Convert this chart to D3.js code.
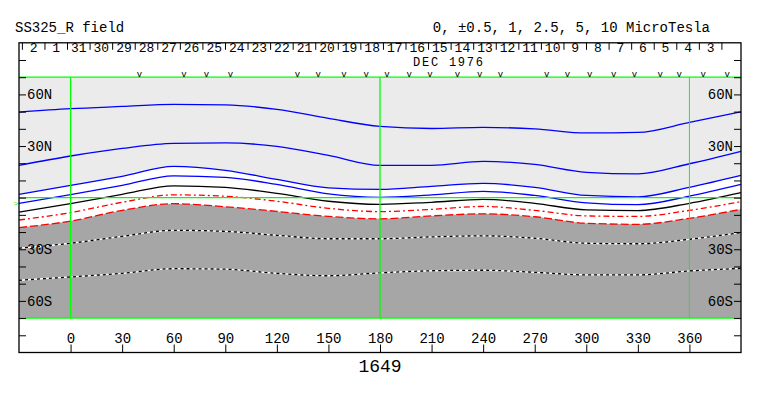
<!DOCTYPE html>
<html>
<head>
<meta charset="UTF-8">
<script src="https://cdn.jsdelivr.net/npm/d3@7"></script>
<style>
body { margin: 0; background: #fff; }
text { font-family: "Liberation Mono", monospace; }
</style>
</head>
<body>
<div id="chart"></div>
<script>
const lons = [-30, 0, 30, 60, 90, 120, 150, 180, 210, 240, 270, 300, 330, 360, 390];

// contour latitudes (deg) per level, MicroTesla
const c5    = [49.7, 51.7, 53.0, 54.2, 53.9, 51.3, 46.1, 41.4, 40.2, 40.8, 40.0, 37.6, 37.9, 43.7, 49.9];
const c2_5  = [18.8, 24.2, 28.6, 31.5, 31.8, 29.8, 24.6, 18.8, 18.8, 21.1, 19.3, 14.7, 13.8, 19.7, 26.9];
const c1    = [1.9, 7.1, 12.4, 18.2, 15.9, 10.6, 5.7, 4.8, 6.6, 8.3, 6.0, 1.3, 0.5, 6.0, 12.9];
const c05   = [-3.3, 1.7, 7.1, 12.7, 11.8, 7.7, 2.2, 0.2, 1.6, 3.7, 1.3, -3.0, -4.1, 0.9, 7.7];
const c0    = [-8.4, -3.5, 1.9, 6.9, 6.0, 2.5, -2.1, -3.9, -2.7, -1.0, -3.3, -7.1, -7.5, -3.3, 2.9];
const cm05  = [-13.0, -8.7, -2.7, 1.6, 0.8, -2.1, -6.2, -8.1, -6.8, -5.1, -7.4, -10.6, -10.9, -7.4, -2.3];
const cm1   = [-17.4, -13.6, -7.4, -3.5, -5.3, -8.0, -10.9, -12.3, -10.6, -9.4, -11.1, -14.9, -15.5, -12.0, -6.8];
const cm2_5 = [-29.4, -26.5, -22.5, -19.0, -19.6, -21.9, -23.9, -23.9, -22.8, -22.2, -23.6, -26.5, -26.8, -24.2, -20.3];
const cm5   = [-48.0, -46.1, -44.0, -41.3, -41.6, -44.0, -45.4, -43.7, -42.5, -42.2, -43.4, -44.9, -44.9, -42.6, -41.1];

// days (Jan 2 back to Dec 3) along the top, right to left in time
const days = [2, 1, 31, 30, 29, 28, 27, 26, 25, 24, 23, 22, 21, 20, 19, 18, 17, 16, 15, 14, 13, 12, 11, 10, 9, 8, 7, 6, 5, 4, 3];

// observation markers (carrington longitude)
const obsLons = [40, 66, 79, 93, 132, 144, 159, 172, 184, 197, 209, 225, 238, 250, 277, 289, 302, 316, 328, 343, 354, 368, 382];

const xTicks = [0, 30, 60, 90, 120, 150, 180, 210, 240, 270, 300, 330, 360];
const latLabels = [60, 30, -30, -60];

const width = 763, height = 396;

const x = d3.scaleLinear().domain([-30, 390]).range([19, 741]);
const y = d3.scaleLinear().domain([-90, 90]).range([352.5, 42.8]);
// day boundary index -> longitude
const dayLon = d3.scaleLinear().domain([0, 30]).range([-14.9, 378.9]);

const svg = d3.select("#chart").append("svg")
    .attr("width", width)
    .attr("height", height);

const pts = arr => arr.map((v, i) => [lons[i], v]);

// shaded areas
const areaTop = d3.area()
    .x(d => x(d[0]))
    .y0(y(70))
    .y1(d => y(d[1]))
    .curve(d3.curveMonotoneX);
const areaBot = d3.area()
    .x(d => x(d[0]))
    .y0(y(-70))
    .y1(d => y(d[1]))
    .curve(d3.curveMonotoneX);

svg.append("path").datum(pts(c1)).attr("d", areaTop).attr("fill", "#ebebeb");
svg.append("path").datum(pts(cm1)).attr("d", areaBot).attr("fill", "#a6a6a6");

const line = d3.line()
    .x(d => x(d[0]))
    .y(d => y(d[1]))
    .curve(d3.curveMonotoneX);

const contours = [
    {v: c5, color: "#0000ff", dash: null},
    {v: c2_5, color: "#0000ff", dash: null},
    {v: c1, color: "#0000ff", dash: null},
    {v: c05, color: "#0000ff", dash: null},
    {v: c0, color: "#000000", dash: null},
    {v: cm05, color: "#ff0000", dash: "6,3,2,3"},
    {v: cm1, color: "#ff0000", dash: "8,3"},
    {v: cm2_5, color: "#ffffff", dash: null, over: "3,3"},
    {v: cm5, color: "#ffffff", dash: null, over: "3,3"}
];

contours.forEach(c => {
    svg.append("path").datum(pts(c.v))
        .attr("d", line)
        .attr("fill", "none")
        .attr("stroke", c.color)
        .attr("stroke-width", 1.3)
        .attr("stroke-dasharray", c.dash);
    if (c.over) {
        svg.append("path").datum(pts(c.v))
            .attr("d", line)
            .attr("fill", "none")
            .attr("stroke", "#000")
            .attr("stroke-width", 1.3)
            .attr("stroke-dasharray", c.over);
    }
});

// green grid: equator, plot top/bottom, 0/180/360 meridians
const green = "#00ff00";
[70, 0, -70].forEach(l => {
    svg.append("line")
        .attr("x1", x(-30)).attr("x2", x(390))
        .attr("y1", y(l)).attr("y2", y(l))
        .attr("stroke", green).attr("stroke-width", 1.3);
});
[0, 180, 360].forEach(l => {
    svg.append("line")
        .attr("x1", x(l)).attr("x2", x(l))
        .attr("y1", y(70)).attr("y2", y(-70))
        .attr("stroke", green).attr("stroke-width", l == 360 ? 1 : 1.3);
});

// small equator marker left of frame
svg.append("text")
    .attr("x", x(-30) - 3).attr("y", y(0) + 8)
    .attr("text-anchor", "middle")
    .attr("font-size", "8px")
    .attr("fill", green)
    .text(">");

// latitude axes
const latFmt = d => latLabels.includes(d) ? Math.abs(d) + (d > 0 ? "N" : "S") : "";
const latTicks = d3.range(-80, 81, 10);

const yl = svg.append("g")
    .attr("transform", "translate(" + x(-30) + ",0)")
    .call(d3.axisRight(y).tickValues(latTicks).tickSize(7).tickPadding(1).tickFormat(latFmt));
const yr = svg.append("g")
    .attr("transform", "translate(" + x(390) + ",0)")
    .call(d3.axisLeft(y).tickValues(latTicks).tickSize(7).tickPadding(1).tickFormat(latFmt));

// longitude axis along the bottom
const xa = svg.append("g")
    .attr("transform", "translate(0," + y(-90) + ")")
    .call(d3.axisTop(x).tickValues(xTicks).tickSize(8).tickPadding(2));

[yl, yr, xa].forEach(g => {
    g.select(".domain").remove();
    g.selectAll("line").attr("stroke", "#000");
    g.selectAll("text")
        .attr("font-family", "Liberation Mono, monospace")
        .attr("font-size", "14px")
        .attr("fill", "#000");
});

// day boundaries and labels on top
svg.selectAll(".daysep")
    .data(d3.range(-1, 31))
  .enter().append("line")
    .attr("class", "daysep")
    .attr("x1", k => x(dayLon(k))).attr("x2", k => x(dayLon(k)))
    .attr("y1", y(90)).attr("y2", y(90) + 7)
    .attr("stroke", "#000");

svg.selectAll(".day")
    .data(days)
  .enter().append("text")
    .attr("class", "day")
    .attr("x", (d, i) => x(dayLon(i - 0.5)))
    .attr("y", 52)
    .attr("text-anchor", "middle")
    .attr("font-size", "13px")
    .text(d => d);

svg.append("text")
    .attr("x", 448).attr("y", 66)
    .attr("text-anchor", "middle")
    .attr("font-size", "12px")
    .attr("textLength", 70)
    .attr("lengthAdjust", "spacing")
    .text("DEC 1976");

svg.selectAll(".obs")
    .data(obsLons)
  .enter().append("text")
    .attr("class", "obs")
    .attr("x", d => x(d))
    .attr("y", 77.2)
    .attr("text-anchor", "middle")
    .attr("font-size", "9px")
    .text("v");

// frame
svg.append("rect")
    .attr("x", x(-30)).attr("y", y(90))
    .attr("width", x(390) - x(-30))
    .attr("height", y(-90) - y(90))
    .attr("fill", "none")
    .attr("stroke", "#000")
    .attr("stroke-width", 1.3);

// titles
svg.append("text")
    .attr("x", 15).attr("y", 32)
    .attr("font-size", "14px")
    .text("SS325_R field");

svg.append("text")
    .attr("x", 710).attr("y", 32)
    .attr("text-anchor", "end")
    .attr("font-size", "14px")
    .text("0, ±0.5, 1, 2.5, 5, 10 MicroTesla");

svg.append("text")
    .attr("x", x(180)).attr("y", 372)
    .attr("text-anchor", "middle")
    .attr("font-size", "18px")
    .text("1649");
</script>
</body>
</html>
